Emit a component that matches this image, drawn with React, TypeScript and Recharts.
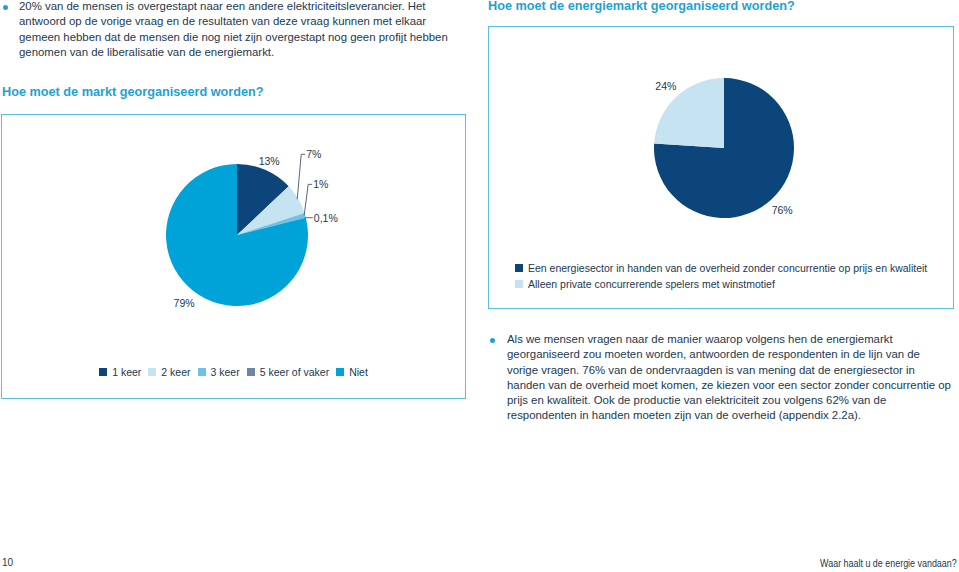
import React from 'react';
import { PieChart, Pie, Cell, Legend } from 'recharts';

// left chart: "Hoe moet de markt georganiseerd worden?"
const switchLabels = ['1 keer', '2 keer', '3 keer', '5 keer of vaker', 'Niet'];
const switchValues = [13, 7, 1, 0.1, 79];
const switchColors = ['#0b4579', '#c5e3f0', '#6cc3e6', '#6c86a8', '#00a3d8'];

// right chart: "Hoe moet de energiemarkt georganiseerd worden?"
const marketLabels = [
  'Een energiesector in handen van de overheid zonder concurrentie op prijs en kwaliteit',
  'Alleen private concurrerende spelers met winstmotief',
];
const marketValues = [76, 24];
const marketColors = ['#0b4579', '#c5e3f0'];

const switchData = switchLabels.map((name, i) => ({ name, value: switchValues[i] }));
const marketData = marketLabels.map((name, i) => ({ name, value: marketValues[i] }));

const RADIAN = Math.PI / 180;
const TEXT = '#22384f';
const CYAN = '#1fa2d0';
const BORDER = '#5cbfe0';
const FONT = '"Liberation Sans", Arial, sans-serif';
const NO_MARGIN = { top: 0, right: 0, bottom: 0, left: 0 };

const fmt = (v: number) => `${String(v).replace('.', ',')}%`;

// leader line rise for the thin slices (null = plain outside label)
const leaderLift: (number | null)[] = [null, 45, 31, 0, null];

const renderSwitchLabel = (props: any) => {
  const { cx, cy, midAngle, outerRadius, index, value } = props;
  const cos = Math.cos(-midAngle * RADIAN);
  const sin = Math.sin(-midAngle * RADIAN);
  const lift = leaderLift[index];
  if (lift == null) {
    const r = outerRadius + (index === 0 ? 10 : 15);
    return (
      <text x={cx + r * cos} y={cy + r * sin} fill={TEXT} fontSize={10.5} textAnchor="middle" dominantBaseline="central">
        {fmt(value)}
      </text>
    );
  }
  const x0 = cx + (outerRadius - 1) * cos;
  const y0 = cy + (outerRadius - 1) * sin;
  const x1 = x0 + (lift > 0 ? 4 : 0);
  const y1 = y0 - lift;
  const x2 = x1 + (lift > 0 ? 4 : 8);
  return (
    <g>
      <polyline points={`${x0},${y0} ${x1},${y1} ${x2},${y1}`} fill="none" stroke="#5a6878" strokeWidth={1} />
      <text x={x2 + 1} y={y1} fill={TEXT} fontSize={10.5} textAnchor="start" dominantBaseline="central">
        {fmt(value)}
      </text>
    </g>
  );
};

const renderMarketLabel = (props: any) => {
  const { cx, cy, midAngle, outerRadius, value } = props;
  const r = outerRadius + 15;
  return (
    <text
      x={cx + r * Math.cos(-midAngle * RADIAN)}
      y={cy + r * Math.sin(-midAngle * RADIAN)}
      fill={TEXT}
      fontSize={10.5}
      textAnchor="middle"
      dominantBaseline="central"
    >
      {fmt(value)}
    </text>
  );
};

// legend drawn from the pie's own payload, kept in data order
const makeLegend = (order: string[], vertical: boolean) => (props: any) => {
  const items = [...(props.payload || [])].sort((a: any, b: any) => order.indexOf(a.value) - order.indexOf(b.value));
  return (
    <div
      style={{
        display: 'flex',
        flexDirection: vertical ? 'column' : 'row',
        justifyContent: vertical ? 'flex-start' : 'center',
        gap: vertical ? 0 : 7,
        fontSize: 10.5,
        lineHeight: '16px',
        color: TEXT,
        fontFamily: FONT,
      }}
    >
      {items.map((it: any) => (
        <div key={it.value} style={{ display: 'flex', alignItems: 'center', whiteSpace: 'nowrap' }}>
          <span style={{ width: 8, height: 8, background: it.color, marginRight: 5, display: 'inline-block' }} />
          <span>{it.value}</span>
        </div>
      ))}
    </div>
  );
};

const abs = (left: number, top: number, extra: React.CSSProperties = {}): React.CSSProperties => ({
  position: 'absolute',
  left,
  top,
  ...extra,
});

const Bullet = ({ left, top }: { left: number; top: number }) => (
  <div style={abs(left, top, { width: 5, height: 5, borderRadius: 3, background: CYAN })} />
);

export default function App() {
  const para: React.CSSProperties = { fontSize: 11.4, lineHeight: '15.25px', color: TEXT, whiteSpace: 'nowrap' };
  const heading: React.CSSProperties = { fontSize: 12.7, fontWeight: 'bold', color: CYAN, whiteSpace: 'nowrap' };

  return (
    <div style={{ position: 'absolute', left: 0, top: 0, width: 959, height: 572, background: '#fff', fontFamily: FONT, overflow: 'hidden' }}>
      <Bullet left={3} top={5} />
      <div style={abs(19, -1, para)}>
        20% van de mensen is overgestapt naar een andere elektriciteitsleverancier. Het<br />
        antwoord op de vorige vraag en de resultaten van deze vraag kunnen met elkaar<br />
        gemeen hebben dat de mensen die nog niet zijn overgestapt nog geen profijt hebben<br />
        genomen van de liberalisatie van de energiemarkt.
      </div>

      <div style={abs(2, 85, heading)}>Hoe moet de markt georganiseerd worden?</div>
      <div style={abs(488, -1, heading)}>Hoe moet de energiemarkt georganiseerd worden?</div>

      <div style={abs(1, 114, { width: 465, height: 285, border: `1.5px solid ${BORDER}`, boxSizing: 'border-box' })} />
      <div style={abs(488, 26, { width: 466, height: 283, border: `1.5px solid ${BORDER}`, boxSizing: 'border-box' })} />

      <div style={abs(1, 114)}>
        <PieChart width={465} height={285} margin={NO_MARGIN}>
          <Pie
            data={switchData}
            dataKey="value"
            nameKey="name"
            cx={236}
            cy={121}
            outerRadius={71}
            startAngle={90}
            endAngle={-270}
            stroke="none"
            label={renderSwitchLabel}
            labelLine={false}
            legendType="square"
            isAnimationActive={false}
          >
            {switchData.map((d, i) => (
              <Cell key={d.name} fill={switchColors[i]} />
            ))}
          </Pie>
          <Legend
            content={makeLegend(switchLabels, false)}
            wrapperStyle={{ top: 250, left: 0, width: 465 }}
          />
        </PieChart>
      </div>

      <div style={abs(488, 26)}>
        <PieChart width={466} height={283} margin={NO_MARGIN}>
          <Pie
            data={marketData}
            dataKey="value"
            nameKey="name"
            cx={236}
            cy={122}
            outerRadius={70}
            startAngle={90}
            endAngle={-270}
            stroke="none"
            label={renderMarketLabel}
            labelLine={false}
            legendType="square"
            isAnimationActive={false}
          >
            {marketData.map((d, i) => (
              <Cell key={d.name} fill={marketColors[i]} />
            ))}
          </Pie>
          <Legend
            content={makeLegend(marketLabels, true)}
            wrapperStyle={{ top: 234, left: 27, width: 430 }}
          />
        </PieChart>
      </div>

      <Bullet left={490} top={338} />
      <div style={abs(507, 332, para)}>
        Als we mensen vragen naar de manier waarop volgens hen de energiemarkt<br />
        georganiseerd zou moeten worden, antwoorden de respondenten in de lijn van de<br />
        vorige vragen. 76% van de ondervraagden is van mening dat de energiesector in<br />
        handen van de overheid moet komen, ze kiezen voor een sector zonder concurrentie op<br />
        prijs en kwaliteit. Ook de productie van elektriciteit zou volgens 62% van de<br />
        respondenten in handen moeten zijn van de overheid (appendix 2.2a).
      </div>

      <div style={abs(2, 557, { fontSize: 10, color: TEXT })}>10</div>
      <div
        style={{
          position: 'absolute',
          right: 2,
          top: 557,
          fontSize: 10.5,
          color: TEXT,
          whiteSpace: 'nowrap',
          transform: 'scaleX(0.85)',
          transformOrigin: 'right center',
        }}
      >
        Waar haalt u de energie vandaan?
      </div>
    </div>
  );
}
